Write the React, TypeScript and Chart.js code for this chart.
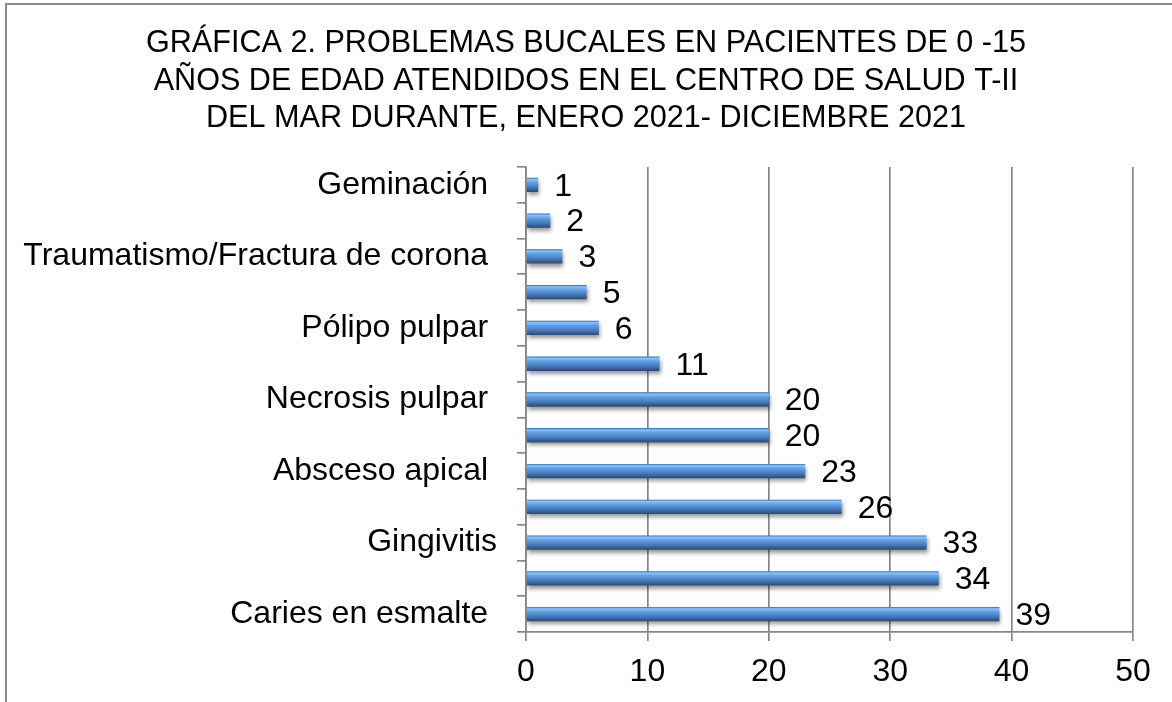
import React, { useEffect, useRef } from "react";
import { Chart, registerables } from "chart.js";

Chart.register(...registerables);

const titleLines = [
  "GRÁFICA 2. PROBLEMAS BUCALES EN PACIENTES DE 0 -15",
  "AÑOS DE EDAD ATENDIDOS EN EL CENTRO DE SALUD T-II",
  "DEL MAR DURANTE, ENERO 2021- DICIEMBRE 2021",
];

// top to bottom (only every other category name is shown in the original)
const categories = [
  "Geminación ",
  "",
  "Traumatismo/Fractura de corona ",
  "",
  "Pólipo pulpar ",
  "",
  "Necrosis pulpar ",
  "",
  "Absceso apical ",
  "",
  "Gingivitis",
  "",
  "Caries en esmalte ",
];

const values = [1, 2, 3, 5, 6, 11, 20, 20, 23, 26, 33, 34, 39];

const xTicks = [0, 10, 20, 30, 40, 50];

const FONT = "'Liberation Sans', Arial, sans-serif";
const GRID = "#878787";

const barShadow = {
  id: "barShadow",
  beforeDatasetDraw(chart: any) {
    const ctx = chart.ctx;
    ctx.save();
    ctx.shadowColor = "rgba(0,0,0,0.4)";
    ctx.shadowBlur = 4;
    ctx.shadowOffsetX = 1;
    ctx.shadowOffsetY = 3;
  },
  afterDatasetDraw(chart: any) {
    chart.ctx.restore();
  },
};

const valueLabels = {
  id: "valueLabels",
  afterDatasetsDraw(chart: any) {
    const ctx = chart.ctx;
    const meta = chart.getDatasetMeta(0);
    const data = chart.data.datasets[0].data;
    ctx.save();
    ctx.font = `32px ${FONT}`;
    ctx.fillStyle = "#000";
    ctx.textAlign = "left";
    ctx.textBaseline = "middle";
    meta.data.forEach((el: any, i: number) => {
      ctx.fillText(String(data[i]), el.x + 16, el.y + 2);
    });
    ctx.restore();
  },
};

function barGradient(context: any) {
  const chart = context.chart;
  const y = chart.scales?.y;
  if (!y || context.dataIndex === undefined) return "#4f81bd";
  const c = y.getPixelForValue(context.dataIndex);
  if (!Number.isFinite(c)) return "#4f81bd";
  const half = 7;
  const g = chart.ctx.createLinearGradient(0, c - half, 0, c + half);
  g.addColorStop(0, "#3f72b2");
  g.addColorStop(0.12, "#8ec3f6");
  g.addColorStop(0.3, "#64a2e4");
  g.addColorStop(0.62, "#4a80c3");
  g.addColorStop(1, "#274c7a");
  return g;
}

export default function App() {
  const ref = useRef<HTMLCanvasElement | null>(null);

  useEffect(() => {
    if (!ref.current) return;
    const chart = new Chart(ref.current, {
      type: "bar",
      data: {
        labels: categories,
        datasets: [
          {
            data: values,
            backgroundColor: barGradient,
            borderWidth: 0,
            categoryPercentage: 1,
            barPercentage: 0.4,
            xAxisID: "x",
            yAxisID: "y",
          },
        ],
      },
      options: {
        indexAxis: "y",
        responsive: false,
        animation: false,
        events: [],
        layout: { padding: { top: 0, left: 0, right: 0, bottom: 0 } },
        plugins: {
          legend: { display: false },
          tooltip: { enabled: false },
          title: {
            display: true,
            text: titleLines,
            color: "#000",
            font: { family: FONT, size: 30.6, weight: "normal", lineHeight: 37.5 / 30.6 },
            padding: { top: 25, bottom: 29.5 },
          },
        },
        scales: {
          x: {
            type: "linear",
            position: "bottom",
            min: xTicks[0],
            max: xTicks[xTicks.length - 1],
            ticks: {
              stepSize: xTicks[1] - xTicks[0],
              color: "#000",
              font: { family: FONT, size: 32 },
              padding: 12,
            },
            grid: {
              color: GRID,
              lineWidth: 1.7,
              tickLength: 9,
              drawTicks: true,
            },
            border: { display: true, color: GRID, width: 1.7 },
            afterFit(scale: any) {
              scale.height = 70;
            },
          },
          y: {
            type: "category",
            position: "left",
            offset: true,
            ticks: {
              autoSkip: false,
              color: "#000",
              font: { family: FONT, size: 32 },
              padding: 20,
            },
            grid: {
              offset: true,
              drawOnChartArea: false,
              drawTicks: true,
              tickLength: 9,
              color: GRID,
              lineWidth: 1.7,
            },
            border: { display: true, color: GRID, width: 1.7 },
            afterFit(scale: any) {
              scale.width = 526;
            },
          },
          // empty spacer on the right, keeps the plot area off the right edge
          yRight: {
            type: "category",
            position: "right",
            display: true,
            ticks: { display: false },
            grid: { display: false, drawTicks: false },
            border: { display: false },
            afterFit(scale: any) {
              scale.width = 39;
            },
          },
        },
      },
      plugins: [barShadow, valueLabels],
    } as any);
    return () => chart.destroy();
  }, []);

  return (
    <div
      style={{
        position: "fixed",
        left: 0,
        top: 0,
        width: 1172,
        height: 702,
        overflow: "hidden",
        background: "#fff",
      }}
    >
      <canvas
        ref={ref}
        width={1172}
        height={702}
        style={{ position: "absolute", left: 0, top: 0, width: 1172, height: 702 }}
      />
      <div
        style={{
          position: "absolute",
          left: 5,
          top: 3,
          width: 1400,
          height: 1000,
          border: "2px solid #8c8c8c",
          pointerEvents: "none",
        }}
      />
    </div>
  );
}
